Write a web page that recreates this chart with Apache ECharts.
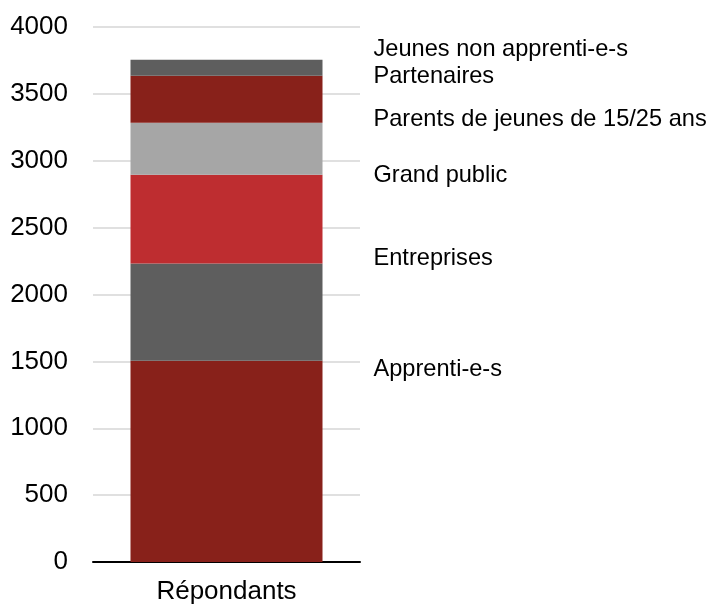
<!DOCTYPE html>
<html>
<head>
<meta charset="utf-8">
<script src="https://cdn.jsdelivr.net/npm/echarts@6/dist/echarts.min.js"></script>
<style>
  html, body { margin: 0; padding: 0; background: #fff; }
  #chart { width: 716px; height: 606px; }
</style>
</head>
<body>
<div id="chart"></div>
<script>
// category
var categories = ['Répondants'];

// series, bottom to top of the stack
var seriesNames = [
  'Apprenti-e-s',
  'Entreprises',
  'Grand public',
  'Parents de jeunes de 15/25 ans',
  'Partenaires',
  'Jeunes non apprenti-e-s'
];
var apprentis = [1505];
var entreprises = [727];
var grandPublic = [663];
var parents = [389];
var partenaires = [352];
var jeunesNonApprentis = [120];

var seriesValues = [apprentis, entreprises, grandPublic, parents, partenaires, jeunesNonApprentis];

// styling only
var colors = ['#88211A', '#5E5E5E', '#BE2D30', '#A6A6A6', '#88211A', '#5E5E5E'];
// vertical shift of each name label, so they sit like the original layout
var labelShift = [-92, -54, -44, -29, -23, -18];

var fontFamily = '"Liberation Sans", Arial, sans-serif';

var chart = echarts.init(document.getElementById('chart'));

var series = seriesNames.map(function (name, i) {
  return {
    name: name,
    type: 'bar',
    stack: 'total',
    barWidth: 192,
    data: seriesValues[i],
    itemStyle: { color: colors[i] },
    label: {
      show: true,
      position: 'right',
      distance: 51,
      offset: [0, labelShift[i]],
      formatter: name,
      color: '#000',
      fontSize: 23.6,
      fontFamily: fontFamily
    },
    emphasis: { disabled: true }
  };
});

var option = {
  animation: false,
  grid: { left: 93, right: 356, top: 27, bottom: 44 },
  xAxis: {
    type: 'category',
    data: categories,
    axisLine: { lineStyle: { color: '#000', width: 2 } },
    axisTick: { show: false },
    axisLabel: { color: '#000', fontSize: 26, fontFamily: fontFamily, margin: 17 }
  },
  yAxis: {
    type: 'value',
    min: 0,
    max: 4000,
    interval: 500,
    axisLine: { show: false },
    axisTick: { show: false },
    axisLabel: {
      color: '#000',
      fontSize: 26,
      fontFamily: fontFamily,
      margin: 25,
      formatter: function (v) { return String(v); }
    },
    splitLine: { lineStyle: { color: '#D6D6D6', width: 1.5 } }
  },
  series: series
};

chart.setOption(option);
</script>
</body>
</html>
